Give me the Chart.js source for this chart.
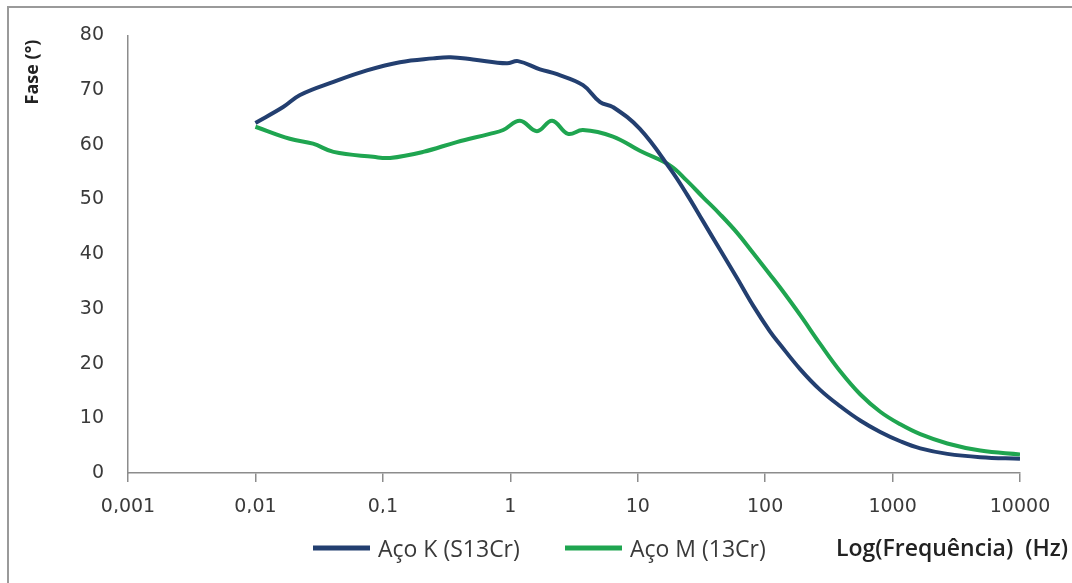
<!DOCTYPE html>
<html>
<head>
<meta charset="utf-8">
<script src="https://cdn.jsdelivr.net/npm/chart.js@4/dist/chart.umd.min.js"></script>
<style>
  html, body { margin: 0; padding: 0; background: #fff; }
  #wrap { width: 1072px; height: 583px; }
</style>
</head>
<body>
<div id="wrap"><canvas id="fase"></canvas></div>
<script>
// frequência (Hz) e ângulo de fase (°) de cada aço
const freqK = [0.01, 0.0165, 0.0224, 0.041, 0.075, 0.136, 0.248, 0.34, 0.51, 0.94, 1.15, 1.71, 2.33, 3.72, 5.07, 6.4, 10.4, 18, 24.4, 32.6, 44.3, 60.3, 80.5, 109, 131, 188, 270, 388, 557, 800, 1150, 1650, 2690, 4880, 10000];
const faseK = [64.0, 66.9, 69.1, 71.5, 73.6, 75.1, 75.8, 76.0, 75.6, 74.9, 75.3, 73.8, 72.9, 70.9, 67.8, 66.9, 62.9, 55.6, 50.9, 46.0, 40.8, 35.6, 30.6, 25.9, 23.5, 19.0, 15.2, 12.2, 9.6, 7.5, 5.8, 4.5, 3.5, 2.9, 2.6];

const freqM = [0.01, 0.0186, 0.0283, 0.041, 0.084, 0.114, 0.207, 0.38, 0.69, 0.88, 1.19, 1.62, 2.13, 2.84, 3.72, 6.4, 10.4, 18, 24.4, 32.6, 44.3, 60.3, 80.5, 109, 131, 188, 270, 388, 557, 800, 1150, 1650, 2690, 4880, 10000];
const faseM = [63.3, 61.1, 60.2, 58.7, 57.8, 57.6, 58.7, 60.5, 62.0, 62.7, 64.4, 62.5, 64.4, 62.0, 62.7, 61.5, 58.9, 56.2, 53.4, 50.4, 47.3, 43.9, 40.2, 36.3, 33.9, 28.9, 23.6, 18.6, 14.4, 11.2, 8.9, 7.1, 5.4, 4.1, 3.4];

const series = ['Aço K (S13Cr)', 'Aço M (13Cr)'];
const decades = [0.001, 0.01, 0.1, 1, 10, 100, 1000, 10000];
const decadeLabels = ['0,001', '0,01', '0,1', '1', '10', '100', '1000', '10000'];

const AXIS = '#8c8c8c';
const TXT = '#3a3a3a';

const pts = (xs, ys) => xs.map((x, i) => ({ x: x, y: ys[i] }));

// moldura, títulos dos eixos e legenda
const extras = {
  id: 'extras',
  beforeDraw(chart) {
    const c = chart.ctx;
    c.save();
    c.strokeStyle = '#9a9a9a';
    c.lineWidth = 2;
    c.strokeRect(8, 7, 1300, 1300);
    c.restore();
  },
  afterDraw(chart) {
    const c = chart.ctx;
    c.save();
    c.fillStyle = '#222';
    // título do eixo y
    c.translate(33, 72);
    c.rotate(-Math.PI / 2);
    c.font = 'bold 18px "Open Sans"';
    c.textAlign = 'center';
    c.textBaseline = 'middle';
    c.fillText('Fase (°)', 0, 0);
    c.restore();

    c.save();
    c.fillStyle = '#222';
    c.font = '600 23px "Open Sans"';
    c.textAlign = 'right';
    c.textBaseline = 'middle';
    c.fillText('Log(Frequência)  (Hz)', 1068, 549);

    // legenda
    const starts = [313, 565];
    chart.data.datasets.forEach((ds, i) => {
      const x0 = starts[i];
      c.strokeStyle = ds.borderColor;
      c.lineWidth = 5;
      c.beginPath();
      c.moveTo(x0, 548);
      c.lineTo(x0 + 57, 548);
      c.stroke();
      c.font = '23px "Open Sans"';
      c.textAlign = 'left';
      c.fillStyle = TXT;
      c.fillText(ds.label, x0 + 65, 550);
    });
    c.restore();
  }
};

new Chart(document.getElementById('fase'), {
  type: 'scatter',
  data: {
    datasets: [
      {
        label: series[0],
        data: pts(freqK, faseK),
        showLine: true,
        borderColor: '#233f70',
        borderWidth: 4,
        pointRadius: 0,
        tension: 0.4,
        fill: false,
      },
      {
        label: series[1],
        data: pts(freqM, faseM),
        showLine: true,
        borderColor: '#1fa550',
        borderWidth: 4,
        pointRadius: 0,
        tension: 0.4,
        fill: false,
      },
    ],
  },
  options: {
    locale: 'pt-BR',
    responsive: true,
    maintainAspectRatio: false,
    animation: false,
    layout: { padding: { left: 0, top: 33, right: 52, bottom: 70 } },
    plugins: {
      legend: { display: false },
      tooltip: { enabled: false },
    },
    scales: {
      x: {
        type: 'logarithmic',
        min: 0.001,
        max: 10000,
        afterBuildTicks(scale) {
          scale.ticks = decades.map(v => ({ value: v }));
        },
        afterFit(scale) { scale.height = 40; },
        ticks: {
          autoSkip: false,
          maxRotation: 0,
          padding: 14,
          color: TXT,
          font: { family: 'DejaVu Sans', size: 19 },
          callback(value) {
            const i = decades.indexOf(value);
            if (i >= 0) return decadeLabels[i];
            return String(value).replace('.', ',');
          },
        },
        grid: { drawOnChartArea: false, drawTicks: true, tickLength: 9, color: AXIS, lineWidth: 1.5 },
        border: { display: true, color: AXIS, width: 1.5 },
      },
      y: {
        min: 0,
        max: 80,
        afterFit(scale) { scale.width = 128; },
        ticks: {
          stepSize: 10,
          padding: 24,
          color: TXT,
          font: { family: 'DejaVu Sans', size: 19 },
        },
        grid: { drawOnChartArea: false, drawTicks: false },
        border: { display: true, color: AXIS, width: 1.5 },
      },
    },
  },
  plugins: [extras],
});
</script>
</body>
</html>
